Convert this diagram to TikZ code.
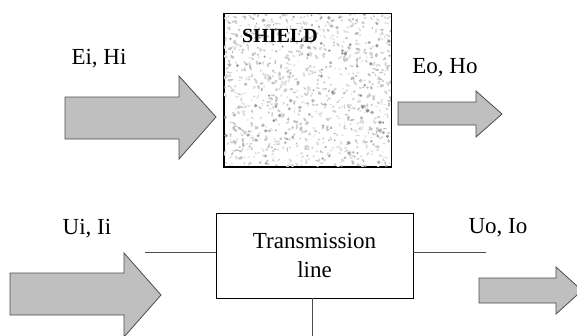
\documentclass[tikz,border=0pt]{standalone}
\usepackage{fontspec}
\setmainfont{Liberation Serif}
\begin{document}
\begin{tikzpicture}[x=1pt,y=-1pt,
  fatarrow/.style={fill=black!25,draw=black!70,line width=0.8pt,line join=miter},
  blk/.style={draw=black,line width=0.9pt},
  lbl/.style={font=\fontsize{23}{25}\selectfont,inner sep=0pt},
  wire/.style={draw=black!70,line width=0.8pt}]
\useasboundingbox (0,0) rectangle (577,335);
% ---- top row ----
\draw[fatarrow] (65,97) -- (179,97) -- (179,76) -- (216,117) -- (179,159) -- (179,139) -- (65,139) -- cycle;
\node[lbl] (ei) at (99,59) {Ei, Hi};
\node[blk,minimum width=167pt,minimum height=153pt,inner sep=0pt,fill=white] (shield) at (307.5,90) {};
\begin{scope}
  \clip (shield.south west) rectangle (shield.north east);
  \pgfmathsetseed{4711}
  \foreach \i in {1,...,900}{
    \pgfmathsetmacro\rx{224+167*rnd}
    \pgfmathsetmacro\ry{14+153*rnd}
    \pgfmathsetmacro\rr{0.8+1.6*rnd}
    \pgfmathsetmacro\rs{0.8+1.6*rnd}
    \pgfmathsetmacro\ra{180*rnd}
    \pgfmathsetmacro\rc{10+18*rnd}
    \fill[black!\rc,rotate around={\ra:(\rx,\ry)}] (\rx,\ry) ellipse [x radius=\rr, y radius=0.6*\rs];
  }
  \foreach \i in {1,...,140}{
    \pgfmathsetmacro\rx{224+167*rnd}
    \pgfmathsetmacro\ry{14+153*rnd}
    \pgfmathsetmacro\rr{0.8+1.2*rnd}
    \pgfmathsetmacro\rc{30+22*rnd}
    \fill[black!\rc,opacity=0.8] (\rx,\ry) circle [radius=\rr];
  }
\end{scope}
\draw[blk] (shield.south west) rectangle (shield.north east);
\node[inner sep=0pt,font=\fontsize{20}{22}\selectfont\bfseries] (sh) at (280,36) {SHIELD};
\node[lbl] (eo) at (445,68) {Eo, Ho};
\draw[fatarrow] (398,102) -- (476,102) -- (476,91) -- (502,114) -- (476,137) -- (476,125) -- (398,125) -- cycle;
% ---- bottom row ----
\draw[fatarrow] (10,273) -- (124,273) -- (124,253) -- (161,295) -- (124,337) -- (124,315) -- (10,315) -- cycle;
\node[lbl] (ui) at (87,229) {Ui, Ii};
\node[blk,minimum width=197pt,minimum height=85pt,inner sep=0pt,align=center,
  font=\fontsize{23}{29}\selectfont] (tl) at (314.5,255.5) {Transmission\\line};
\coordinate (lin) at (145,252);
\coordinate (rout) at (486,252);
\coordinate (bot) at (312,336);
\draw[wire] (lin) -- (lin -| tl.west);
\draw[wire] (rout -| tl.east) -- (rout);
\draw[wire] (tl.south -| bot) -- (bot);
\node[lbl] (uo) at (498,228) {Uo, Io};
\draw[fatarrow] (479,278) -- (556,278) -- (556,267) -- (582,290.5) -- (556,314) -- (556,303) -- (479,303) -- cycle;
\end{tikzpicture}
\end{document}
